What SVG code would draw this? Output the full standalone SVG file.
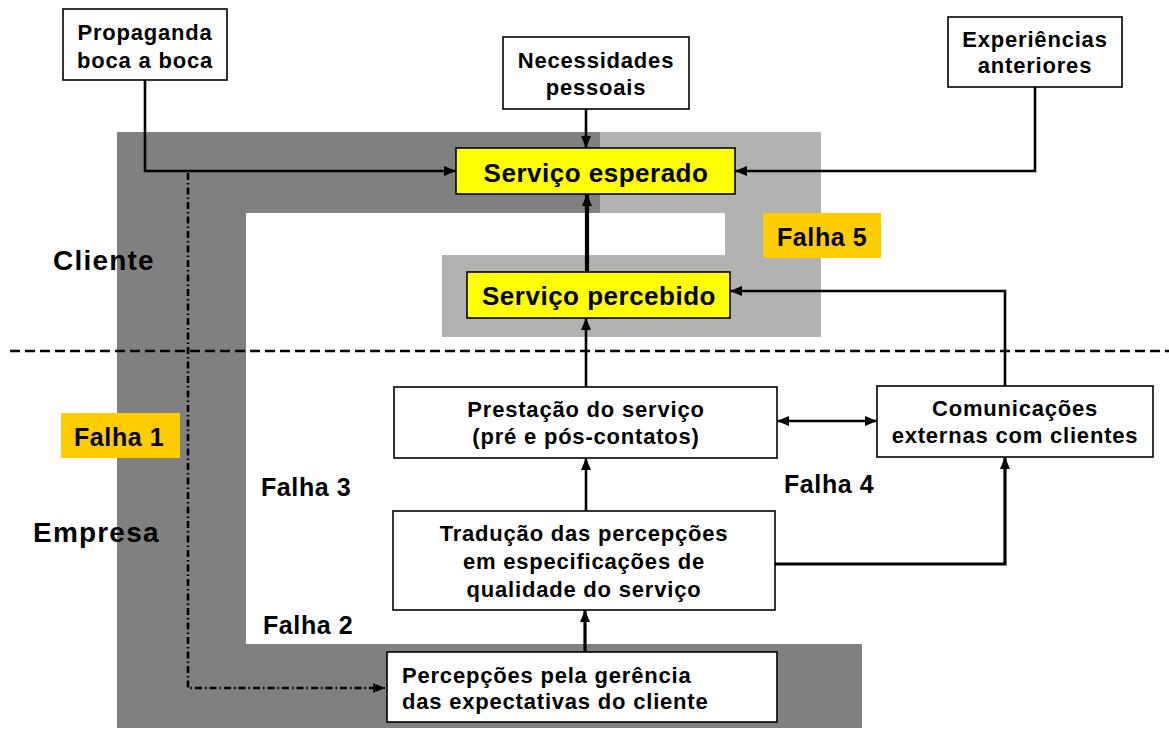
<svg xmlns="http://www.w3.org/2000/svg" width="1169" height="729" viewBox="0 0 1169 729">
  <style>
    text { font-family: "Liberation Sans", Arial, sans-serif; font-weight: bold; fill: #000; }
    .box { fill: #fff; stroke: #000; stroke-width: 1.6; }
    .ybox { fill: #ffff00; stroke: #000; stroke-width: 1.6; }
    .tag { fill: #ffcc00; }
    .t22 { font-size: 22px; letter-spacing: 0.8px; text-anchor: middle; }
    .t22l { font-size: 22px; letter-spacing: 0.8px; }
    .t26 { font-size: 26px; letter-spacing: 0.5px; text-anchor: middle; }
    .falha { font-size: 25px; letter-spacing: 0.6px; }
    .side { font-size: 28px; letter-spacing: 1.2px; }
    .conn { fill: none; stroke: #000; stroke-width: 2.6; }
    .thick { stroke-width: 4.2; }
    .mid { stroke-width: 3.2; }
  </style>
  <defs>
    <marker id="arr" viewBox="0 0 12 10" refX="12" refY="5" markerWidth="12" markerHeight="10" markerUnits="userSpaceOnUse" orient="auto-start-reverse">
      <path d="M0,0 L12,5 L0,10 z" fill="#000"/>
    </marker>
  </defs>

  <g id="background">
    <path d="M600,132 H821 V337 H442 V255 H725 V213 H600 Z" fill="#b2b2b2"/>
    <path d="M117,132 H600 V213 H246 V644 H862 V728 H117 Z" fill="#808080"/>
    <line x1="10" y1="351" x2="1169" y2="351" stroke="#000" stroke-width="2.5" stroke-dasharray="10 5"/>
  </g>

  <g id="labels">
    <text class="side" x="53" y="270">Cliente</text>
    <text class="side" x="33" y="542">Empresa</text>
    <g id="falha1"><rect class="tag" x="61" y="413" width="119" height="45"/><text class="falha" x="74" y="446">Falha 1</text></g>
    <g id="falha5"><rect class="tag" x="763" y="213" width="118" height="45"/><text class="falha" x="777" y="246">Falha 5</text></g>
    <text id="falha3" class="falha" x="261" y="496">Falha 3</text>
    <text id="falha4" class="falha" x="784" y="493">Falha 4</text>
    <text id="falha2" class="falha" x="263" y="634">Falha 2</text>
  </g>

  <g id="connectors">
    <path class="conn" d="M188,173 V688 H385" stroke-dasharray="7 3 1.5 3" marker-end="url(#arr)"/>
    <path class="conn" d="M145,80 V171 H456" marker-end="url(#arr)"/>
    <path class="conn" d="M586,109 V148" marker-end="url(#arr)"/>
    <path class="conn" d="M1035,87 V171 H735" marker-end="url(#arr)"/>
    <path class="conn thick" d="M587,272 V194" marker-end="url(#arr)"/>
    <path class="conn" d="M586,387 V318" marker-end="url(#arr)"/>
    <path class="conn" d="M1005,386 V291 H730" marker-end="url(#arr)"/>
    <path class="conn" d="M777,421 H877" marker-start="url(#arr)" marker-end="url(#arr)"/>
    <path class="conn" d="M586,511 V458" marker-end="url(#arr)"/>
    <path class="conn mid" d="M775,564 H1005 V457" marker-end="url(#arr)"/>
    <path class="conn mid" d="M585,652 V610" marker-end="url(#arr)"/>
  </g>

  <g id="propaganda">
    <rect class="box" x="63" y="9" width="164" height="71"/>
    <text class="t22" x="145" y="40">Propaganda</text>
    <text class="t22" x="145" y="68">boca a boca</text>
  </g>
  <g id="necessidades">
    <rect class="box" x="503" y="37" width="186" height="72"/>
    <text class="t22" x="596" y="68">Necessidades</text>
    <text class="t22" x="596" y="95">pessoais</text>
  </g>
  <g id="experiencias">
    <rect class="box" x="948" y="17" width="174" height="70"/>
    <text class="t22" x="1035" y="47">Experiências</text>
    <text class="t22" x="1035" y="73">anteriores</text>
  </g>
  <g id="servico-esperado">
    <rect class="ybox" x="456" y="148" width="279" height="46"/>
    <text class="t26" x="596" y="182">Serviço esperado</text>
  </g>
  <g id="servico-percebido">
    <rect class="ybox" x="467" y="272" width="263" height="46"/>
    <text class="t26" x="599" y="305">Serviço percebido</text>
  </g>
  <g id="prestacao">
    <rect class="box" x="394" y="387" width="383" height="71"/>
    <text class="t22" x="586" y="417">Prestação do serviço</text>
    <text class="t22" x="586" y="444">(pré e pós-contatos)</text>
  </g>
  <g id="comunicacoes">
    <rect class="box" x="877" y="386" width="276" height="71"/>
    <text class="t22" x="1015" y="416">Comunicações</text>
    <text class="t22" x="1015" y="443">externas com clientes</text>
  </g>
  <g id="traducao">
    <rect class="box" x="393" y="511" width="382" height="99"/>
    <text class="t22" x="584" y="541">Tradução das percepções</text>
    <text class="t22" x="584" y="569">em especificações de</text>
    <text class="t22" x="584" y="597">qualidade do serviço</text>
  </g>
  <g id="percepcoes">
    <rect class="box" x="387" y="652" width="390" height="70"/>
    <text class="t22l" x="402" y="683">Percepções pela gerência</text>
    <text class="t22l" x="402" y="709">das expectativas do cliente</text>
  </g>
</svg>
